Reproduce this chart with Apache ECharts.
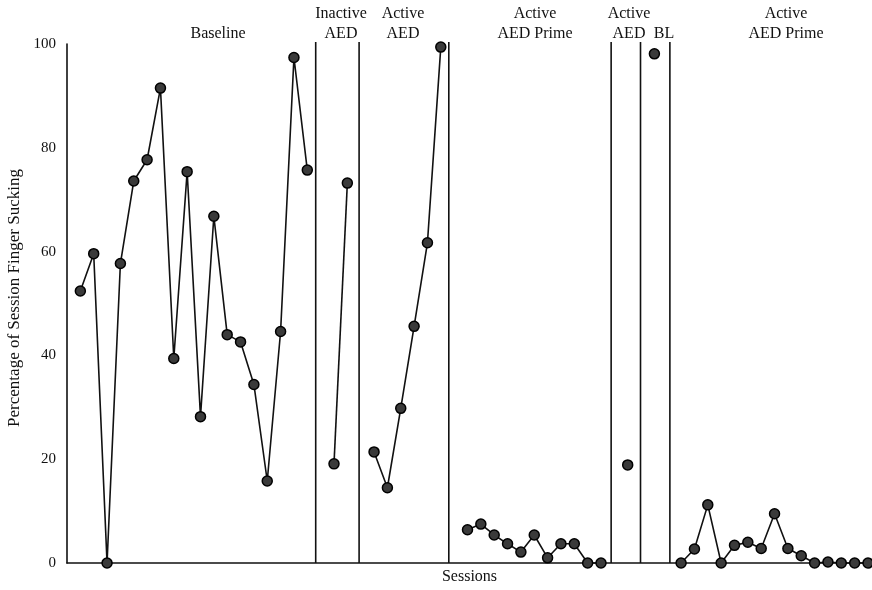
<!DOCTYPE html>
<html><head><meta charset="utf-8">
<script src="https://cdn.jsdelivr.net/npm/echarts@6/dist/echarts.min.js"></script>
<style>html,body{margin:0;padding:0;background:#fff}#c{width:872px;height:590px}</style>
</head><body><div id="c"></div><script>
// ---- data ----
const yTicks = [0, 20, 40, 60, 80, 100];
const phaseNames = ['Baseline', 'Inactive\nAED', 'Active\nAED', 'Active\nAED Prime', 'Active\nAED', 'BL', 'Active\nAED Prime'];
const phaseLines = [18.63, 21.88, 28.6, 40.76, 42.96, 45.16];

const baselineSessions = [1,2,3,4,5,6,7,8,9,10,11,12,13,14,15,16,17,18];
const baselineValues   = [52.4,59.6,0,57.7,73.6,77.7,91.5,39.4,75.4,28.2,66.8,44.0,42.6,34.4,15.8,44.6,97.4,75.7];
const inactiveSessions = [20,21];
const inactiveValues   = [19.1,73.2];
const activeSessions   = [23,24,25,26,27,28];
const activeValues     = [21.4,14.5,29.8,45.6,61.7,99.4];
const primeSessions    = [30,31,32,33,34,35,36,37,38,39,40];
const primeValues      = [6.4,7.5,5.4,3.7,2.1,5.4,1.0,3.7,3.7,0,0];
const active2Sessions  = [42];
const active2Values    = [18.9];
const blSessions       = [44];
const blValues         = [98.1];
const prime2Sessions   = [46,47,48,49,50,51,52,53,54,55,56,57,58,59,60];
const prime2Values     = [0,2.7,11.2,0,3.4,4.0,2.8,9.5,2.8,1.4,0,0.2,0,0,0];

// ---- chart ----
const FONT = '"Liberation Serif", "DejaVu Serif", serif';
const chart = echarts.init(document.getElementById('c'));
const zip = (xs, ys) => xs.map((x, i) => [x, ys[i]]);
const phases = [
  [baselineSessions, baselineValues],
  [inactiveSessions, inactiveValues],
  [activeSessions, activeValues],
  [primeSessions, primeValues],
  [active2Sessions, active2Values],
  [blSessions, blValues],
  [prime2Sessions, prime2Values]
];
const series = [];
phaseLines.forEach(x => series.push({
  type: 'line',
  data: [[x, yTicks[0]], [x, yTicks[yTicks.length - 1] + 0.4]],
  symbol: 'none', clip: false, silent: true,
  lineStyle: { color: '#111', width: 1.6 },
  z: 2
}));
phases.forEach(([xs, ys]) => series.push({
  type: 'line',
  data: zip(xs, ys),
  symbol: 'circle',
  symbolSize: 10,
  clip: false,
  itemStyle: { color: '#3a3a3a', borderColor: '#000', borderWidth: 1.5 },
  lineStyle: { color: '#111', width: 1.6 },
  z: 3
}));

const labelPos = [
  { x: 218, y: 24 }, { x: 341, y: 4 }, { x: 403, y: 4 }, { x: 535, y: 4 },
  { x: 629, y: 4 }, { x: 664, y: 24 }, { x: 786, y: 4 }
];
const graphics = phaseNames.map((t, i) => ({
  type: 'text', x: labelPos[i].x, y: labelPos[i].y,
  style: { text: t, fill: '#111', font: '16px ' + FONT, align: 'center', verticalAlign: 'top', lineHeight: 20 }
}));
graphics.push({
  type: 'text', x: 15, y: 298, rotation: Math.PI / 2,
  style: { text: 'Percentage of Session Finger Sucking', fill: '#111', font: '17px ' + FONT, align: 'center', verticalAlign: 'middle' }
});

chart.setOption({
  animation: false,
  backgroundColor: '#fff',
  grid: { left: 67, right: 0, top: 44, bottom: 24, containLabel: false },
  xAxis: {
    type: 'value', min: 0, max: 60.3,
    name: 'Sessions', nameLocation: 'middle', nameGap: 6,
    nameTextStyle: { fontFamily: FONT, fontSize: 16, color: '#111', verticalAlign: 'top' },
    axisLine: { show: true, lineStyle: { color: '#111', width: 1.6 } },
    axisTick: { show: false }, axisLabel: { show: false }, splitLine: { show: false }
  },
  yAxis: {
    type: 'value', min: yTicks[0], max: yTicks[yTicks.length - 1], interval: yTicks[1] - yTicks[0],
    axisLine: { show: true, lineStyle: { color: '#111', width: 1.6 } },
    axisTick: { show: false },
    axisLabel: { fontFamily: FONT, fontSize: 15, color: '#111', margin: 11 },
    splitLine: { show: false }
  },
  graphic: graphics,
  series: series
});
</script></body></html>
